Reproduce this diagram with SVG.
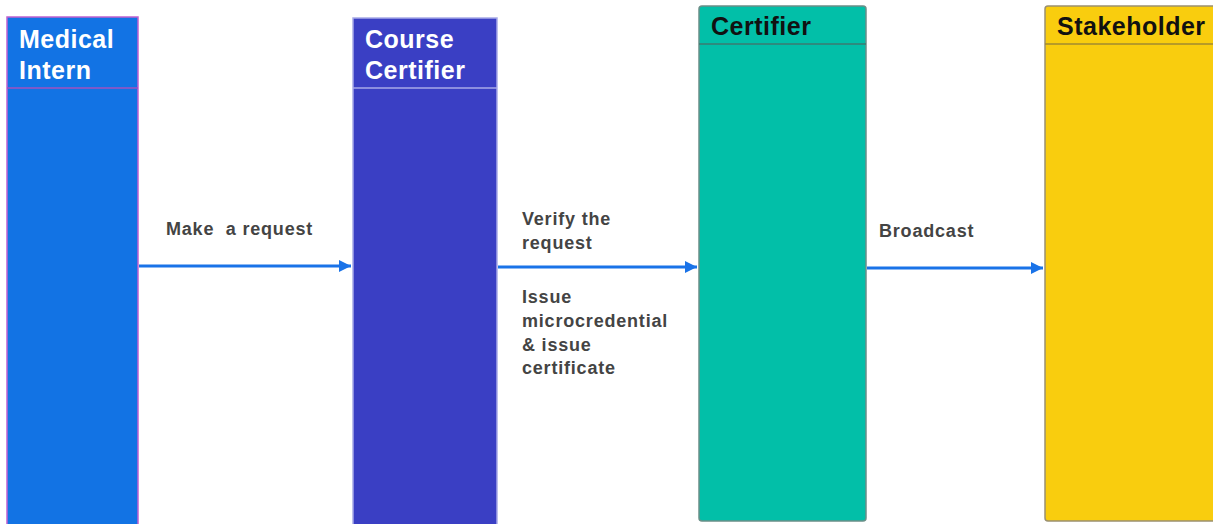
<svg xmlns="http://www.w3.org/2000/svg" width="1213" height="524" viewBox="0 0 1213 524">
<style>
.hdr{font-family:"Liberation Sans",Arial,sans-serif;font-weight:bold;font-size:25px;letter-spacing:0.5px}
.lbl{font-family:"Liberation Sans",Arial,sans-serif;font-weight:bold;font-size:18px;fill:#444;letter-spacing:0.8px}
.conn{stroke:#1a73e8;stroke-width:3;fill:none;marker-end:url(#ah)}
</style>
<defs>
<marker id="ah" viewBox="0 0 10 10" refX="10" refY="5" markerWidth="4.5" markerHeight="4" orient="auto" markerUnits="strokeWidth">
<path d="M0,0 L10,5 L0,10 z" fill="#1a73e8"/>
</marker>
</defs>
<rect width="1213" height="524" fill="#fff"/>
<g id="medical-intern">
<rect x="7" y="17" width="131" height="520" fill="#1273e4" stroke="#c060d0" stroke-width="1.5"/>
<line x1="7" y1="88" x2="138" y2="88" stroke="#a050c0" stroke-width="1.5"/>
<text class="hdr" fill="#fff" x="19" y="48">Medical</text>
<text class="hdr" fill="#fff" x="19" y="79">Intern</text>
</g>
<g id="course-certifier">
<rect x="353" y="18" width="144" height="520" fill="#3a3fc4" stroke="#a8aae8" stroke-width="1.5"/>
<line x1="353" y1="88" x2="497" y2="88" stroke="#a8aae8" stroke-width="1.5"/>
<text class="hdr" fill="#fff" x="365" y="48">Course</text>
<text class="hdr" fill="#fff" x="365" y="79">Certifier</text>
</g>
<g id="certifier">
<rect x="699" y="6" width="167" height="515" rx="3" fill="#02bfa8" stroke="#6b8f88" stroke-width="1.5"/>
<line x1="699" y1="44" x2="866" y2="44" stroke="#3c7a70" stroke-width="1.5"/>
<text class="hdr" fill="#111" x="711" y="35">Certifier</text>
</g>
<g id="stakeholder">
<rect x="1045" y="6" width="172" height="515" rx="3" fill="#f9cd0e" stroke="#9a9070" stroke-width="1.5"/>
<line x1="1045" y1="44" x2="1213" y2="44" stroke="#a08a30" stroke-width="1.5"/>
<text class="hdr" fill="#111" x="1057" y="35">Stakeholder</text>
</g>
<g id="connectors">
<line class="conn" x1="139" y1="266" x2="351" y2="266"/>
<line class="conn" x1="498" y1="267" x2="697" y2="267"/>
<line class="conn" x1="867" y1="268" x2="1043" y2="268"/>
</g>
<g id="labels">
<text class="lbl" x="166" y="235" xml:space="preserve">Make  a request</text>
<text class="lbl" x="522" y="225">Verify the</text>
<text class="lbl" x="522" y="249">request</text>
<text class="lbl" x="522" y="303">Issue</text>
<text class="lbl" x="522" y="327">microcredential</text>
<text class="lbl" x="522" y="351">&amp; issue</text>
<text class="lbl" x="522" y="374">certificate</text>
<text class="lbl" x="879" y="237">Broadcast</text>
</g>
</svg>
